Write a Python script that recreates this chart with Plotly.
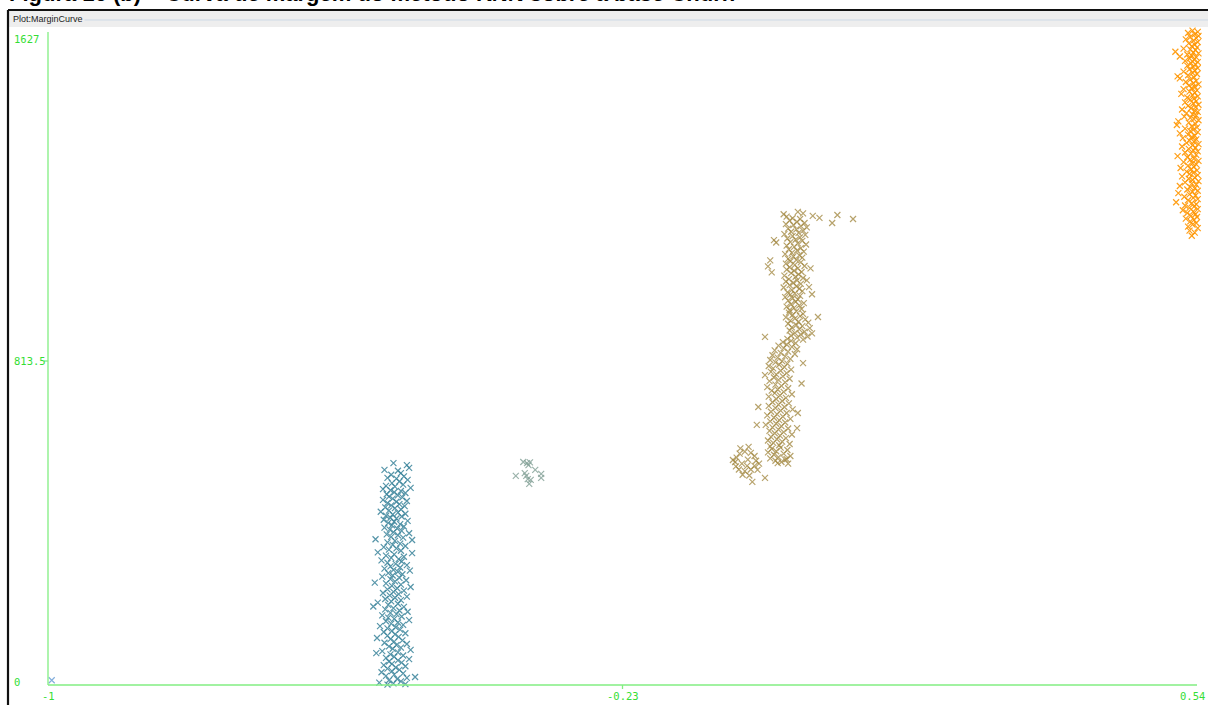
import plotly.graph_objects as go

# Margin curve of the KNN classifier: (margin, cumulative count) per instance,
# grouped by the colour band Weka assigned to each margin value.
teal_pts = [
    (-0.537, 557), (-0.519, 552), (-0.516, 545), (-0.549, 540), (-0.531, 538), (-0.527, 532),
    (-0.540, 528), (-0.523, 524), (-0.545, 520), (-0.533, 518), (-0.518, 515), (-0.529, 511),
    (-0.539, 507), (-0.524, 503), (-0.547, 500), (-0.535, 498), (-0.514, 495),
    (-0.551, 492), (-0.541, 489), (-0.527, 487), (-0.536, 484), (-0.521, 482), (-0.546, 479),
    (-0.531, 476), (-0.543, 473), (-0.525, 471), (-0.538, 468), (-0.551, 465), (-0.519, 462),
    (-0.533, 460), (-0.545, 457), (-0.529, 454), (-0.540, 451), (-0.522, 449), (-0.548, 446),
    (-0.535, 444), (-0.527, 441),
    (-0.543, 438), (-0.554, 435), (-0.531, 433), (-0.521, 430), (-0.538, 428), (-0.547, 425),
    (-0.526, 423), (-0.541, 420), (-0.533, 418), (-0.550, 415), (-0.518, 412), (-0.536, 410),
    (-0.544, 407), (-0.528, 404), (-0.539, 401), (-0.523, 398), (-0.549, 395), (-0.532, 393),
    (-0.542, 390), (-0.526, 387), (-0.537, 384), (-0.516, 381),
    (-0.546, 378), (-0.531, 376), (-0.540, 372), (-0.524, 370), (-0.561, 366), (-0.512, 364),
    (-0.535, 362), (-0.545, 358), (-0.528, 355), (-0.538, 352), (-0.521, 349), (-0.550, 346),
    (-0.533, 343), (-0.543, 340), (-0.527, 337), (-0.558, 333), (-0.512, 331), (-0.536, 328),
    (-0.547, 325), (-0.523, 322),
    (-0.540, 319), (-0.530, 316), (-0.553, 313), (-0.526, 310), (-0.545, 307), (-0.534, 304),
    (-0.519, 301), (-0.541, 298), (-0.528, 295), (-0.549, 292), (-0.537, 289), (-0.515, 287),
    (-0.531, 284), (-0.544, 281), (-0.525, 278), (-0.538, 275), (-0.552, 272), (-0.529, 269),
    (-0.541, 266), (-0.520, 263), (-0.535, 260),
    (-0.562, 257), (-0.547, 255), (-0.527, 252), (-0.539, 249), (-0.514, 246), (-0.532, 243),
    (-0.545, 240), (-0.523, 237), (-0.537, 234), (-0.551, 231), (-0.530, 228), (-0.542, 225),
    (-0.519, 222), (-0.535, 219), (-0.548, 216), (-0.527, 213), (-0.540, 210), (-0.558, 207),
    (-0.531, 204), (-0.544, 201),
    (-0.564, 197), (-0.523, 196), (-0.537, 193), (-0.548, 190), (-0.529, 187), (-0.518, 184),
    (-0.541, 181), (-0.533, 178), (-0.552, 175), (-0.526, 172), (-0.544, 169), (-0.536, 166),
    (-0.516, 163), (-0.547, 160), (-0.531, 157), (-0.540, 154), (-0.524, 151), (-0.555, 148),
    (-0.534, 145), (-0.545, 142),
    (-0.528, 139), (-0.539, 136), (-0.550, 133), (-0.521, 130), (-0.535, 127), (-0.545, 124),
    (-0.530, 121), (-0.559, 118), (-0.541, 115), (-0.525, 112), (-0.536, 109), (-0.549, 106),
    (-0.519, 103), (-0.533, 100), (-0.543, 97), (-0.527, 94), (-0.538, 91), (-0.514, 88),
    (-0.552, 85), (-0.531, 82), (-0.560, 80),
    (-0.541, 77), (-0.524, 74), (-0.536, 71), (-0.547, 68), (-0.516, 65), (-0.531, 62),
    (-0.543, 59), (-0.526, 56), (-0.539, 53), (-0.550, 50), (-0.521, 47), (-0.534, 44),
    (-0.545, 41), (-0.529, 38), (-0.539, 35), (-0.553, 32), (-0.524, 29), (-0.536, 26),
    (-0.547, 23), (-0.508, 20), (-0.519, 18), (-0.532, 15), (-0.543, 12), (-0.527, 9),
    (-0.556, 6), (-0.537, 4), (-0.521, 2), (-0.545, 1),
]

mid_pts = [
    (-0.363, 560), (-0.358, 557), (-0.354, 559), (-0.373, 525), (-0.361, 532), (-0.357, 517),
    (-0.353, 515), (-0.347, 540), (-0.339, 530), (-0.339, 520), (-0.355, 505), (-0.359, 525),
    (-0.356, 552),
]

olive_pts = [
    (-0.014, 1182), (0.005, 1188), (0.012, 1184), (0.025, 1178), (0.034, 1173), (0.051, 1160),
    (0.058, 1180), (0.079, 1170),
    (-0.010, 1176), (-0.002, 1172), (0.008, 1170), (-0.006, 1166), (0.004, 1163), (0.014, 1160),
    (-0.011, 1157), (-0.001, 1155), (0.009, 1152), (0.017, 1149), (-0.008, 1146), (0.003, 1144),
    (0.012, 1141), (-0.004, 1138), (0.006, 1135), (-0.013, 1132), (0.015, 1130), (-0.002, 1127),
    (0.008, 1124), (-0.009, 1121), (0.002, 1118), (0.011, 1115), (-0.027, 1117), (-0.024, 1111),
    (-0.005, 1112), (0.005, 1109), (0.016, 1106), (-0.010, 1103), (0.000, 1100), (0.009, 1097),
    (-0.007, 1094), (0.004, 1091), (0.013, 1088), (-0.003, 1085),
    (-0.012, 1082), (0.007, 1079), (-0.001, 1076), (0.011, 1073), (-0.008, 1070), (0.003, 1067),
    (-0.032, 1066), (-0.005, 1064), (0.009, 1061), (-0.011, 1058), (0.001, 1055), (0.014, 1052),
    (-0.035, 1051), (-0.006, 1049), (0.005, 1046), (0.022, 1046), (-0.010, 1043), (0.000, 1040),
    (-0.030, 1036), (0.010, 1037), (-0.004, 1034), (0.006, 1031), (-0.013, 1028), (0.002, 1025),
    (0.012, 1022), (-0.007, 1019), (0.004, 1016), (0.017, 1016), (-0.011, 1013), (-0.001, 1010),
    (0.009, 1007), (-0.006, 1004), (0.003, 1001), (0.020, 999), (-0.014, 998), (0.007, 995),
    (-0.003, 992), (0.011, 989), (-0.009, 986), (0.001, 983), (0.024, 981), (-0.005, 980),
    (0.008, 977), (-0.012, 974), (-0.002, 971), (0.005, 968), (-0.008, 965), (0.002, 962),
    (0.013, 959), (-0.004, 956), (0.007, 953), (-0.010, 950), (0.000, 947), (0.010, 944),
    (-0.006, 941),
    (0.003, 938), (-0.007, 935), (0.012, 932), (-0.002, 929), (0.008, 926), (0.032, 924),
    (-0.011, 923), (0.001, 920), (0.015, 918), (-0.005, 915), (0.006, 912), (0.019, 910),
    (-0.008, 907), (0.003, 904), (0.011, 901), (-0.003, 898), (0.021, 896), (0.007, 893),
    (-0.006, 890), (0.014, 887), (0.001, 884), (0.024, 883), (0.009, 880), (-0.004, 877),
    (0.018, 875), (-0.039, 874), (0.004, 872), (-0.009, 869), (0.012, 867),
    (-0.004, 864), (-0.015, 861), (0.002, 858), (-0.010, 855), (-0.021, 852), (-0.003, 849),
    (-0.014, 846), (0.004, 843), (-0.026, 840), (-0.008, 837), (-0.018, 834), (0.001, 831),
    (-0.029, 828), (-0.012, 825), (-0.022, 822), (-0.005, 819), (-0.032, 816), (-0.016, 813),
    (-0.025, 810), (0.012, 808), (-0.009, 807), (-0.020, 804), (-0.034, 801), (-0.013, 798),
    (-0.028, 795), (-0.004, 792), (-0.018, 789), (-0.031, 786), (-0.010, 783), (-0.024, 780),
    (-0.039, 778), (-0.015, 775), (-0.027, 772), (-0.006, 769), (-0.021, 766), (-0.033, 763),
    (-0.012, 760), (0.010, 757), (-0.025, 754), (-0.017, 751), (-0.036, 748), (-0.008, 745),
    (-0.022, 742), (-0.030, 739), (-0.014, 736), (-0.026, 733), (-0.003, 730), (-0.019, 727),
    (-0.034, 724), (-0.011, 721), (-0.024, 718),
    (-0.016, 713), (-0.029, 710), (-0.007, 707), (-0.021, 704), (-0.034, 701), (-0.048, 698),
    (-0.013, 698), (-0.025, 695), (-0.002, 692), (-0.018, 689), (-0.031, 686), (0.005, 683),
    (-0.010, 683), (-0.023, 680), (-0.036, 677), (-0.015, 674), (-0.027, 671), (-0.005, 668),
    (-0.020, 665), (-0.032, 662), (-0.012, 659), (-0.024, 656), (-0.050, 653), (-0.038, 653),
    (-0.017, 650), (-0.029, 647), (0.004, 645), (-0.008, 644), (-0.021, 641), (-0.033, 638),
    (-0.014, 635), (-0.026, 632), (-0.003, 629), (-0.019, 626), (-0.031, 623), (-0.011, 620),
    (-0.023, 617), (-0.035, 614), (-0.016, 611), (-0.028, 608), (-0.006, 605), (-0.020, 602),
    (-0.032, 599),
    (-0.018, 596), (-0.030, 593), (-0.009, 590), (-0.024, 587), (-0.035, 584), (-0.014, 581),
    (-0.027, 578), (-0.005, 575), (-0.021, 572), (-0.032, 569), (-0.010, 567), (-0.012, 566),
    (-0.025, 563), (-0.017, 560), (-0.022, 557), (-0.008, 556), (-0.039, 520),
    (-0.079, 560), (-0.077, 571), (-0.073, 581), (-0.066, 586), (-0.058, 583), (-0.053, 575),
    (-0.051, 563), (-0.053, 550), (-0.058, 541), (-0.066, 537), (-0.074, 541), (-0.078, 549),
    (-0.070, 556), (-0.062, 566), (-0.063, 550), (-0.069, 528), (-0.060, 526), (-0.049, 540),
    (-0.072, 594), (-0.061, 598), (-0.082, 565), (-0.047, 556), (-0.056, 510),
]

orange_pts = [
    (0.534, 1643), (0.541, 1640), (0.528, 1637), (0.537, 1634), (0.542, 1630), (0.531, 1627),
    (0.539, 1624), (0.525, 1621), (0.535, 1618), (0.541, 1614), (0.529, 1611), (0.537, 1608),
    (0.533, 1604), (0.540, 1601),
    (0.522, 1598), (0.531, 1596), (0.538, 1594), (0.511, 1590), (0.535, 1588), (0.542, 1586),
    (0.527, 1583), (0.533, 1580), (0.517, 1578), (0.539, 1576), (0.530, 1573), (0.536, 1570),
    (0.524, 1567), (0.541, 1564), (0.532, 1561), (0.538, 1558), (0.527, 1555), (0.535, 1552),
    (0.541, 1549), (0.530, 1546), (0.537, 1543), (0.522, 1540), (0.534, 1537), (0.540, 1534),
    (0.528, 1531), (0.514, 1528), (0.536, 1526), (0.517, 1523), (0.531, 1520), (0.539, 1517),
    (0.525, 1514), (0.535, 1511), (0.542, 1508), (0.529, 1505), (0.537, 1502),
    (0.533, 1499), (0.522, 1496), (0.540, 1493), (0.530, 1490), (0.537, 1487), (0.519, 1484),
    (0.534, 1481), (0.541, 1478), (0.527, 1475), (0.536, 1472), (0.531, 1469), (0.539, 1466),
    (0.524, 1463), (0.535, 1460), (0.542, 1457), (0.528, 1454), (0.538, 1451),
    (0.532, 1448), (0.520, 1445), (0.537, 1442), (0.541, 1439), (0.526, 1436), (0.534, 1433),
    (0.539, 1430), (0.523, 1427), (0.531, 1424), (0.536, 1421), (0.542, 1418), (0.515, 1415),
    (0.529, 1412), (0.538, 1409), (0.513, 1406), (0.533, 1403), (0.540, 1400),
    (0.524, 1397), (0.535, 1394), (0.531, 1391), (0.541, 1388), (0.517, 1385), (0.528, 1382),
    (0.537, 1379), (0.533, 1376), (0.521, 1373), (0.539, 1370), (0.530, 1367), (0.536, 1364),
    (0.526, 1361), (0.542, 1358), (0.534, 1355), (0.520, 1352),
    (0.538, 1349), (0.529, 1346), (0.535, 1343), (0.541, 1340), (0.524, 1337), (0.532, 1334),
    (0.539, 1331), (0.514, 1328), (0.527, 1325), (0.536, 1322), (0.531, 1319), (0.542, 1316),
    (0.522, 1313), (0.534, 1310), (0.539, 1307), (0.528, 1304), (0.536, 1301),
    (0.518, 1298), (0.532, 1295), (0.540, 1292), (0.526, 1289), (0.535, 1286), (0.530, 1283),
    (0.541, 1280), (0.520, 1277), (0.537, 1274), (0.529, 1271), (0.534, 1268), (0.542, 1265),
    (0.524, 1262), (0.533, 1259), (0.539, 1256), (0.517, 1253), (0.531, 1250),
    (0.537, 1247), (0.527, 1244), (0.541, 1241), (0.534, 1238), (0.515, 1235), (0.530, 1232),
    (0.538, 1229), (0.523, 1226), (0.535, 1223), (0.541, 1220), (0.528, 1217), (0.512, 1212),
    (0.533, 1210), (0.539, 1207), (0.524, 1204), (0.536, 1201),
    (0.530, 1198), (0.541, 1195), (0.521, 1192), (0.535, 1189), (0.527, 1185), (0.538, 1182),
    (0.532, 1178), (0.540, 1175), (0.525, 1171), (0.536, 1168), (0.531, 1164), (0.539, 1160),
    (0.534, 1156), (0.528, 1151), (0.541, 1147), (0.530, 1141), (0.537, 1136), (0.533, 1128),
]

edge_pts = [(-0.995, 12)]

x_ticks = [-1, -0.23, 0.54]
x_tick_text = ["-1", "-0.23", "0.54"]
y_ticks = [0, 813.5, 1627]
y_tick_text = ["0", "813.5", "1627"]

title_text = "Figura 16 (b) – Curva de margem do método KNN sobre a base Churn"
panel_text = "Plot:MarginCurve"

# ---- page geometry (pixels) ----
W, H = 1208, 705
AX_L, AX_R = 48, 1197          # x pixel of x_ticks[0] and x_ticks[-1]
AX_B, AX_T = 685, 37           # y pixel of y_ticks[0] and y_ticks[-1]
kx = (AX_R - AX_L) / (x_ticks[-1] - x_ticks[0])
ky = (AX_B - AX_T) / (y_ticks[-1] - y_ticks[0])
x_lo = x_ticks[0] - AX_L / kx
x_hi = x_lo + W / kx
y_lo = y_ticks[0] - (H - AX_B) / ky
y_hi = y_lo + H / ky


def px(p):
    return p / W


def py(p):
    return 1 - p / H


AXIS_GREEN = "rgb(130,238,130)"
TEXT_GREEN = "rgb(52,222,52)"

fig = go.Figure()


def add_points(pts, color, opacity):
    fig.add_trace(go.Scatter(
        x=[p[0] for p in pts], y=[p[1] for p in pts], mode="markers",
        marker=dict(symbol="x-thin", size=6, opacity=opacity,
                    line=dict(width=1.2, color=color)),
        hoverinfo="x+y", showlegend=False, cliponaxis=True,
    ))


add_points(edge_pts, "rgb(110,160,215)", 0.85)
add_points(teal_pts, "rgb(58,132,155)", 0.85)
add_points(mid_pts, "rgb(130,160,150)", 0.8)
add_points(olive_pts, "rgb(160,133,60)", 0.75)
add_points(orange_pts, "rgb(255,150,0)", 0.9)

shapes = [
    # axes
    dict(type="line", xref="x", yref="y", x0=x_ticks[0], x1=x_ticks[-1], y0=0, y1=0,
         line=dict(color=AXIS_GREEN, width=1.3)),
    dict(type="line", xref="x", yref="y", x0=x_ticks[0], x1=x_ticks[0],
         y0=0, y1=y_ticks[-1] + 5 / ky, line=dict(color=AXIS_GREEN, width=1.3)),
    dict(type="line", xref="x", yref="y", x0=x_ticks[1], x1=x_ticks[1],
         y0=0, y1=-4 / ky, line=dict(color=AXIS_GREEN, width=1.3)),
    dict(type="line", xref="x", yref="y", x0=x_ticks[0] - 4 / kx, x1=x_ticks[0],
         y0=y_ticks[1], y1=y_ticks[1], line=dict(color=AXIS_GREEN, width=1.3)),
    # panel header strip
    dict(type="rect", xref="paper", yref="paper", x0=px(9), x1=1, y0=py(27), y1=py(11),
         fillcolor="#eeeeee", line=dict(width=0), layer="above"),
    dict(type="line", xref="paper", yref="paper", x0=px(84), x1=1, y0=py(20), y1=py(20),
         line=dict(color="#cdd9e6", width=1), layer="above"),
    # window frame
    dict(type="line", xref="paper", yref="paper", x0=px(8), x1=1, y0=py(10), y1=py(10),
         line=dict(color="#111111", width=2.2), layer="above"),
    dict(type="line", xref="paper", yref="paper", x0=px(8), x1=px(8), y0=py(10), y1=0,
         line=dict(color="#111111", width=2.2), layer="above"),
]

annotations = [
    dict(text=f"<b>{title_text}</b>", xref="paper", yref="paper", x=px(7), y=py(8),
         xanchor="left", yanchor="bottom", showarrow=False,
         font=dict(family="Liberation Sans, Arial", size=22, color="#000000")),
    dict(text=panel_text, xref="paper", yref="paper", x=px(11), y=py(19),
         xanchor="left", yanchor="middle", showarrow=False, bgcolor="#eeeeee",
         font=dict(family="Liberation Sans, Arial", size=9, color="#222222")),
]

x_anchor = ["center", "center", "right"]
x_label_pos = [x_ticks[0], x_ticks[1], x_hi - 1 / kx]
for v, t, a in zip(x_label_pos, x_tick_text, x_anchor):
    annotations.append(dict(text=t, xref="x", yref="paper", x=v, y=py(696),
                            xanchor=a, yanchor="middle", showarrow=False,
                            font=dict(family="DejaVu Sans Mono", size=10.5, color=TEXT_GREEN)))

for v, t, s in zip(y_ticks, y_tick_text, [3, 0, -2]):
    annotations.append(dict(text=t, xref="paper", yref="y", x=px(12), y=v, yshift=s,
                            xanchor="left", yanchor="middle", showarrow=False,
                            font=dict(family="DejaVu Sans Mono", size=10.5, color=TEXT_GREEN)))

fig.update_layout(
    width=W, height=H, autosize=False,
    margin=dict(l=0, r=0, t=0, b=0, pad=0),
    paper_bgcolor="white", plot_bgcolor="white",
    xaxis=dict(range=[x_lo, x_hi], visible=False, fixedrange=True),
    yaxis=dict(range=[y_lo, y_hi], visible=False, fixedrange=True),
    shapes=shapes, annotations=annotations,
    showlegend=False,
)

fig.write_html("out.html")
